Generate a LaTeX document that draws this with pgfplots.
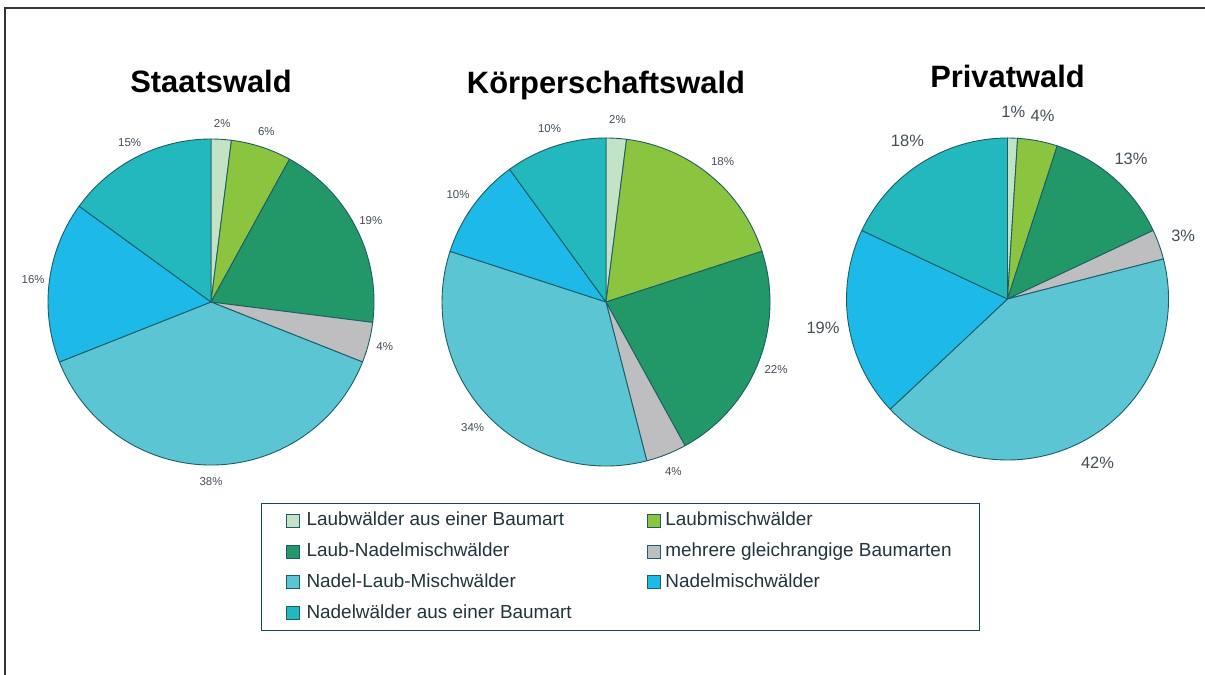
\documentclass[border=0pt]{standalone}
\usepackage{pgfplots}
\pgfplotsset{compat=1.18}
\usepackage{pgfplotstable}
\usepackage{fontspec}
\setmainfont{Liberation Sans}

% slice colours, in legend order
\definecolor{pie0}{HTML}{C4E3C6}
\definecolor{pie1}{HTML}{8BC540}
\definecolor{pie2}{HTML}{229868}
\definecolor{pie3}{HTML}{BEBEC0}
\definecolor{pie4}{HTML}{5CC5D4}
\definecolor{pie5}{HTML}{1DB9E8}
\definecolor{pie6}{HTML}{23B8BE}
\definecolor{edge}{HTML}{1D5E66}
\definecolor{lab}{HTML}{434D57}
\definecolor{legtext}{HTML}{22343C}

% shares in percent, clockwise from twelve o'clock
\pgfplotstableread{
share
2
6
19
4
38
16
15
}\staatswald

\pgfplotstableread{
share
2
18
22
4
34
10
10
}\koerperschaftswald

\pgfplotstableread{
share
1
4
13
3
42
19
18
}\privatwald

\tikzset{
  smalllab/.style={font=\fontsize{11.5}{13}\selectfont, text=lab},
  biglab/.style={font=\fontsize{16.5}{19}\selectfont, text=lab},
  pietitle/.style={font=\bfseries\fontsize{31}{36}\selectfont, anchor=base},
}

% #1 table, #2 radius (bp), #3 label distance (axis units), #4 label style
\newcommand\drawpie[4]{%
  \pgfplotstablegetrowsof{#1}%
  \pgfmathtruncatemacro\nrows{\pgfplotsretval-1}%
  \def\cum{0}%
  \pgfplotsforeachungrouped \i in {0,...,\nrows}{%
    \pgfplotstablegetelem{\i}{share}\of{#1}%
    \let\val\pgfplotsretval
    \pgfmathsetmacro\sa{90-3.6*\cum}%
    \pgfmathsetmacro\ea{90-3.6*(\cum+\val)}%
    \pgfmathsetmacro\ma{(\sa+\ea)/2}%
    \pgfmathsetmacro\sx{cos(\sa)}%
    \pgfmathsetmacro\sy{sin(\sa)}%
    \pgfmathsetmacro\lx{#3*cos(\ma)}%
    \pgfmathsetmacro\ly{#3*sin(\ma)}%
    \pgfmathsetmacro\cum{\cum+\val}%
    \edef\cmd{%
      \noexpand\filldraw[fill=pie\i, draw=edge, line width=0.9bp, line join=round]
        (axis cs:0,0) -- (axis cs:\sx,\sy)
        arc[start angle=\sa, end angle=\ea, radius=#2bp] -- cycle;
      \noexpand\node[#4] at (axis cs:\lx,\ly) {\val\noexpand\%};
    }%
    \cmd
  }%
}

\pgfplotsset{
  pieaxis/.style={
    hide axis, scale only axis, clip=false,
    xmin=-1, xmax=1, ymin=-1, ymax=1,
    anchor=south west,
  },
}

\begin{document}
\begin{tikzpicture}
\useasboundingbox (0,0) rectangle (1205bp,675bp);
\draw[line width=2bp, black!80] (4.5bp,0) -- (4.5bp,666.5bp) -- (1205bp,666.5bp);

% Staatswald, with the legend for all three
\begin{axis}[pieaxis, width=326bp, height=326bp, at={(48bp,210bp)},
  legend image code/.code={\draw[#1, line width=0.9bp] (0bp,-6.5bp) rectangle (13bp,6.5bp);},
  legend columns=2,
  legend cell align=left,
  legend style={
    at={(0.6534,-0.1166)}, anchor=north west,
    draw=edge!80!black, line width=1.2bp,
    inner xsep=24bp, inner ysep=8.3bp,
    column sep=0pt, row sep=12.7bp,
    font=\fontsize{19}{22}\selectfont, text=legtext,
    nodes={inner sep=0pt, text height=14bp, text depth=4bp},
  },
]
\drawpie{\staatswald}{163}{1.10}{smalllab}
\node[pietitle] at (axis cs:0,1.288) {Staatswald};
\addlegendimage{fill=pie0, draw=edge}
\addlegendentry{\makebox[347bp][l]{\hspace*{7bp}Laubwälder aus einer Baumart}}
\addlegendimage{fill=pie1, draw=edge}
\addlegendentry{\makebox[295bp][l]{\hspace*{5bp}Laubmischwälder}}
\addlegendimage{fill=pie2, draw=edge}
\addlegendentry{\makebox[347bp][l]{\hspace*{7bp}Laub-Nadelmischwälder}}
\addlegendimage{fill=pie3, draw=edge}
\addlegendentry{\makebox[295bp][l]{\hspace*{5bp}mehrere gleichrangige Baumarten}}
\addlegendimage{fill=pie4, draw=edge}
\addlegendentry{\makebox[347bp][l]{\hspace*{7bp}Nadel-Laub-Mischwälder}}
\addlegendimage{fill=pie5, draw=edge}
\addlegendentry{\makebox[295bp][l]{\hspace*{5bp}Nadelmischwälder}}
\addlegendimage{fill=pie6, draw=edge}
\addlegendentry{\makebox[347bp][l]{\hspace*{7bp}Nadelwälder aus einer Baumart}}
\end{axis}

% Körperschaftswald
\begin{axis}[pieaxis, width=328bp, height=328bp, at={(442bp,209bp)}]
\drawpie{\koerperschaftswald}{164}{1.115}{smalllab}
\node[pietitle] at (axis cs:0,1.274) {Körperschaftswald};
\end{axis}

% Privatwald
\begin{axis}[pieaxis, width=322bp, height=322bp, at={(846.5bp,215bp)}]
\drawpie{\privatwald}{161}{1.16}{biglab}
\node[pietitle] at (axis cs:0,1.311) {Privatwald};
\end{axis}
\end{tikzpicture}
\end{document}
